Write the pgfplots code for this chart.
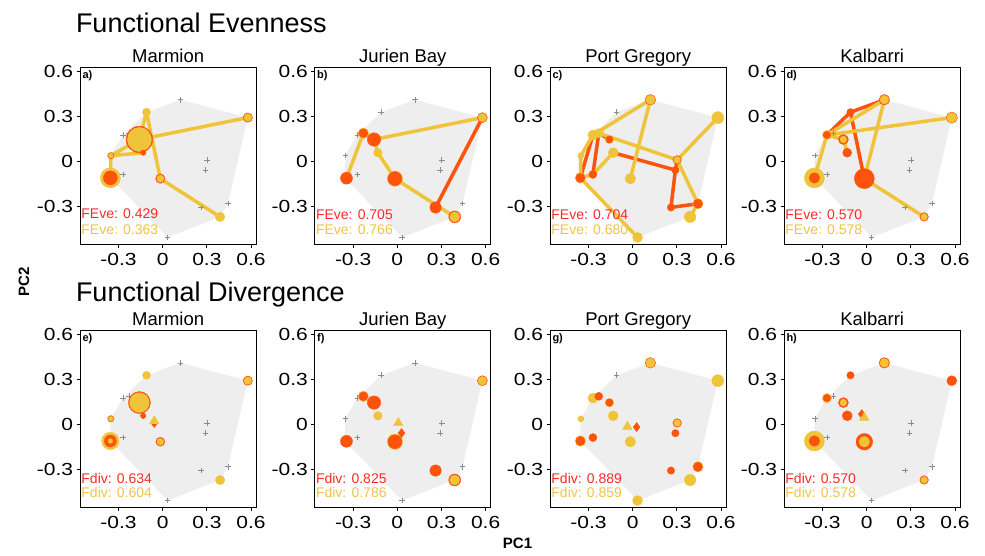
\documentclass[border=0pt]{standalone}
\usepackage{fontspec}
\setmainfont{Liberation Sans}
\newfontfamily\tickfont{Liberation Sans}[FakeStretch=1.2]
\usepackage{pgfplots}
\pgfplotsset{compat=1.18}
\definecolor{rp}{RGB}{255,82,10}
\definecolor{yp}{RGB}{240,196,58}
\definecolor{rt}{RGB}{255,40,40}
\definecolor{yt}{RGB}{238,196,70}
\definecolor{hullc}{RGB}{238,238,238}
\definecolor{crs}{RGB}{140,140,140}
\tikzset{
 txtA/.style={anchor=west, inner sep=0pt, font=\fontsize{14}{14}\selectfont},
 lab/.style={anchor=north west, inner sep=0pt, font=\bfseries\fontsize{11}{11}\selectfont},
}
\pgfplotsset{
 every axis title/.style={at={(0.5,1)}, anchor=base, yshift=4.5pt, font=\fontsize{18.5}{18.5}\selectfont},
 panel/.style={scale only axis, width=176pt, height=177pt, anchor=south west,
   xmin=-0.56, xmax=0.635, ymin=-0.55, ymax=0.63,
   xtick={-0.3,0,0.3,0.6}, xticklabels={-0.3,0,0.3,0.6},
   ytick={-0.3,0,0.3,0.6}, yticklabels={-0.3,0,0.3,0.6},
   tick align=outside, tick pos=left, major tick length=3.5pt,
   every tick/.style={black, line width=0.9pt},
   axis line style={line width=1.3pt},
   ticklabel style={font=\tickfont\fontsize{17.5}{17.5}\selectfont},
   xticklabel style={yshift=-2pt},
   unbounded coords=jump,
   colormap={ry}{color(0)=(rp) color(1)=(yp)},
 },
 pts/.style={scatter, only marks, mark=*, point meta=explicit, point meta min=0, point meta max=1,
   scatter/use mapped color={draw=mapped color, fill=mapped color},
   visualization depends on={\thisrow{s}\as\ms},
   scatter/@pre marker code/.append style={/tikz/mark size=\ms}},
 yl/.style={yp, line width=3.5pt, line cap=round, line join=round},
 rl/.style={rp, line width=3.5pt, line cap=round, line join=round},
 hullp/.style={fill=hullc, draw=none},
 crossp/.style={only marks, mark=+, mark size=2.8pt, crs, mark options={line width=0.6pt}},
}
\newcommand{\hull}{(-0.355,0.04) (-0.27,0.178) (-0.11,0.33) (0.12,0.413) (0.578,0.294) (0.443,-0.28) (0.39,-0.368) (0.033,-0.505) (-0.355,-0.108)}
\newcommand{\crosses}{(0.12,0.413) (0.578,0.294) (-0.11,0.33) (-0.27,0.178) (-0.23,0.19) (-0.158,0.148) (-0.132,0.06) (-0.352,0.04) (-0.355,-0.108) (-0.27,-0.085) (-0.016,-0.113) (0.302,0.012) (0.29,-0.056) (0.26,-0.305) (0.443,-0.28) (0.39,-0.368) (0.033,-0.505)}
\begin{document}
\begin{tikzpicture}
\useasboundingbox (0pt,0pt) rectangle (985pt,556pt);
\node[anchor=base west, inner sep=0pt, font=\fontsize{27}{27}\selectfont] at (75.8pt,523pt) {Functional Evenness};
\node[anchor=base west, inner sep=0pt, font=\fontsize{27}{27}\selectfont] at (75.8pt,254pt) {Functional Divergence};
\node[rotate=90, inner sep=0pt, font=\bfseries\fontsize{15}{15}\selectfont] at (24pt,274pt) {PC2};
\node[inner sep=0pt, font=\bfseries\fontsize{15}{15}\selectfont] at (517.5pt,13pt) {PC1};

% ---------------- a) Marmion FEve
\begin{axis}[panel, at={(80.2pt,311.8pt)}, title={Marmion}]
\addplot[hullp] coordinates {\hull} -- cycle;
\addplot[crossp] coordinates {\crosses};
\addplot[pts] table[meta=c] {
x y s c
-0.11 0.33 4.0 1
0.578 0.294 4.7 0
0.578 0.294 3.8 1
-0.158 0.148 13.3 0
-0.158 0.148 12.0 1
-0.132 0.06 2.7 0
-0.352 0.04 3.2 0
-0.352 0.04 2.4 1
-0.355 -0.108 10 1
-0.355 -0.108 7 0
-0.016 -0.113 4.7 0
-0.016 -0.113 3.6 1
0.39 -0.368 4.7 1
};
\addplot[yl] coordinates {(-0.355,-0.108) (-0.352,0.04) (-0.132,0.06) (nan,nan) (-0.352,0.04) (-0.158,0.148) (0.578,0.294) (nan,nan) (-0.158,0.148) (-0.11,0.33) (-0.016,-0.113) (0.39,-0.368)};
\node[txtA, text=rt] at (axis cs:-0.553,-0.345) {FEve: 0.429};
\node[txtA, text=yt] at (axis cs:-0.553,-0.45) {FEve: 0.363};
\node[lab] at (rel axis cs:0.012,0.985) {a)};
\end{axis}

% ---------------- b) Jurien Bay FEve
\begin{axis}[panel, at={(314.8pt,311.8pt)}, title={Jurien Bay}]
\addplot[hullp] coordinates {\hull} -- cycle;
\addplot[crossp] coordinates {\crosses};
\addplot[pts] table[meta=c] {
x y s c
-0.23 0.19 5.3 1
-0.23 0.19 4.5 0
-0.158 0.148 6.7 0
-0.132 0.06 4.3 1
-0.345 -0.11 6 0
-0.016 -0.113 7.7 1
-0.016 -0.113 7 0
0.26 -0.305 5.7 0
0.39 -0.368 6 0
0.39 -0.368 5 1
0.578 0.294 5 0
0.578 0.294 4.2 1
};
\addplot[rl] coordinates {(0.578,0.294) (0.26,-0.305)};
\addplot[yl] coordinates {(-0.345,-0.11) (-0.23,0.19) (-0.158,0.148) (0.578,0.294) (nan,nan) (-0.158,0.148) (-0.132,0.06) (-0.016,-0.113) (0.39,-0.368)};
\node[txtA, text=rt] at (axis cs:-0.553,-0.355) {FEve: 0.705};
\node[txtA, text=yt] at (axis cs:-0.553,-0.455) {FEve: 0.766};
\node[lab] at (rel axis cs:0.012,0.985) {b)};
\end{axis}

% ---------------- c) Port Gregory FEve
\begin{axis}[panel, at={(550.2pt,311.8pt)}, title={Port Gregory}]
\addplot[hullp] coordinates {\hull} -- cycle;
\addplot[crossp] coordinates {\crosses};
\addplot[pts] table[meta=c] {
x y s c
0.12 0.413 5.3 0
0.12 0.413 4.6 1
0.578 0.294 6 1
-0.27 0.178 5 1
-0.23 0.19 4 0
-0.23 0.19 4.6 1
-0.158 0.148 4.2 1
-0.158 0.148 3.6 0
-0.132 0.06 5 1
-0.352 0.04 3 1
-0.355 -0.108 5.3 1
-0.355 -0.108 4.6 0
-0.27 -0.085 4 0
-0.016 -0.113 5.3 1
0.302 0.012 4.3 0
0.302 0.012 3.4 1
0.29 -0.056 3.7 0
0.26 -0.305 3.7 0
0.443 -0.28 5.2 1
0.443 -0.28 4.6 0
0.39 -0.368 5.7 1
0.033 -0.505 5 1
};
\addplot[rl] coordinates {(-0.355,-0.108) (-0.27,0.178) (nan,nan) (-0.27,-0.085) (-0.23,0.19) (-0.158,0.148) (nan,nan) (-0.132,0.06) (0.29,-0.056) (0.26,-0.305) (0.443,-0.28) (nan,nan) (0.302,0.012) (0.29,-0.056)};
\addplot[yl] coordinates {(0.033,-0.505) (-0.355,-0.108) (-0.352,0.04) (-0.27,0.178) (0.12,0.413) (-0.016,-0.113) (nan,nan) (-0.355,-0.108) (-0.27,-0.085) (-0.132,0.06) (nan,nan) (-0.27,0.178) (-0.23,0.19) (0.302,0.012) (0.578,0.294) (nan,nan) (0.302,0.012) (0.443,-0.28) (0.39,-0.368)};
\node[txtA, text=rt] at (axis cs:-0.553,-0.355) {FEve: 0.704};
\node[txtA, text=yt] at (axis cs:-0.553,-0.455) {FEve: 0.680};
\node[lab] at (rel axis cs:0.012,0.985) {c)};
\end{axis}

% ---------------- d) Kalbarri FEve
\begin{axis}[panel, at={(784.2pt,311.8pt)}, title={Kalbarri}]
\addplot[hullp] coordinates {\hull} -- cycle;
\addplot[crossp] coordinates {\crosses};
\addplot[pts] table[meta=c] {
x y s c
0.12 0.413 5.3 0
0.12 0.413 4.3 1
0.578 0.294 5.6 0
0.578 0.294 5.0 1
-0.11 0.33 3.7 0
-0.27 0.178 4.7 1
-0.27 0.178 3.7 0
-0.158 0.148 5 0
-0.158 0.148 3.3 1
-0.132 0.06 4.5 0
-0.355 -0.108 10 1
-0.355 -0.108 5.3 0
-0.016 -0.113 10 0
0.39 -0.368 4.3 0
0.39 -0.368 3.3 1
};
\addplot[rl] coordinates {(-0.27,0.178) (-0.11,0.33) (0.12,0.413) (nan,nan) (-0.11,0.33) (-0.016,-0.113)};
\addplot[yl] coordinates {(-0.355,-0.108) (-0.27,0.178) (0.578,0.294) (nan,nan) (-0.27,0.178) (0.12,0.413) (-0.016,-0.113) (0.39,-0.368) (nan,nan) (-0.27,0.178) (-0.158,0.148) (-0.132,0.06)};
\node[txtA, text=rt] at (axis cs:-0.553,-0.35) {FEve: 0.570};
\node[txtA, text=yt] at (axis cs:-0.553,-0.455) {FEve: 0.578};
\node[lab] at (rel axis cs:0.012,0.985) {d)};
\end{axis}

% ---------------- e) Marmion FDiv
\begin{axis}[panel, at={(80.2pt,48.7pt)}, title={Marmion}]
\addplot[hullp] coordinates {\hull} -- cycle;
\addplot[crossp] coordinates {\crosses};
\addplot[pts] table[meta=c] {
x y s c
-0.11 0.33 4.0 1
0.578 0.294 4.7 0
0.578 0.294 3.8 1
-0.158 0.148 11.0 0
-0.158 0.148 9.8 1
-0.132 0.06 2.7 0
-0.352 0.04 3.2 0
-0.352 0.04 2.4 1
-0.355 -0.108 8.7 1
-0.355 -0.108 6 0
-0.355 -0.108 2.3 1
-0.016 -0.113 4.5 0
-0.016 -0.113 3.4 1
0.39 -0.368 4.7 1
};
\addplot[only marks, mark=diamond*, mark size=3.5pt, rp] coordinates {(-0.057,0.005)};
\addplot[only marks, mark=triangle*, mark size=5.5pt, yp] coordinates {(-0.057,0.025)};
\node[txtA, text=rt] at (axis cs:-0.553,-0.358) {Fdiv: 0.634};
\node[txtA, text=yt] at (axis cs:-0.553,-0.453) {Fdiv: 0.604};
\node[lab] at (rel axis cs:0.012,0.985) {e)};
\end{axis}

% ---------------- f) Jurien Bay FDiv
\begin{axis}[panel, at={(314.8pt,48.7pt)}, title={Jurien Bay}]
\addplot[hullp] coordinates {\hull} -- cycle;
\addplot[crossp] coordinates {\crosses};
\addplot[pts] table[meta=c] {
x y s c
-0.23 0.19 5.3 1
-0.23 0.19 4.5 0
-0.158 0.148 6.7 0
-0.132 0.06 4.3 1
-0.345 -0.11 6 0
-0.016 -0.113 7.7 1
-0.016 -0.113 7 0
0.26 -0.305 5.7 0
0.39 -0.368 6 0
0.39 -0.368 5 1
0.578 0.294 5 0
0.578 0.294 4.2 1
};
\addplot[only marks, mark=diamond*, mark size=4.5pt, rp] coordinates {(0.029,-0.055)};
\addplot[only marks, mark=triangle*, mark size=5.5pt, yp] coordinates {(0.007,0.012)};
\node[txtA, text=rt] at (axis cs:-0.553,-0.358) {Fdiv: 0.825};
\node[txtA, text=yt] at (axis cs:-0.553,-0.453) {Fdiv: 0.786};
\node[lab] at (rel axis cs:0.012,0.985) {f)};
\end{axis}

% ---------------- g) Port Gregory FDiv
\begin{axis}[panel, at={(550.2pt,48.7pt)}, title={Port Gregory}]
\addplot[hullp] coordinates {\hull} -- cycle;
\addplot[crossp] coordinates {\crosses};
\addplot[pts] table[meta=c] {
x y s c
0.12 0.413 5.3 0
0.12 0.413 4.6 1
0.578 0.294 6 1
-0.27 0.178 5 1
-0.23 0.19 4 0
-0.158 0.148 4.2 1
-0.158 0.148 3.8 0
-0.132 0.06 5 1
-0.352 0.04 3 1
-0.355 -0.108 5.3 1
-0.355 -0.108 4.6 0
-0.27 -0.085 4 0
-0.016 -0.113 5.3 1
0.302 0.012 4.3 0
0.302 0.012 3.4 1
0.29 -0.056 3.7 0
0.26 -0.305 3.7 0
0.443 -0.28 5.2 1
0.443 -0.28 4.6 0
0.39 -0.368 5.7 1
0.033 -0.505 5 1
};
\addplot[only marks, mark=diamond*, mark size=4.5pt, rp] coordinates {(0.027,-0.015)};
\addplot[only marks, mark=triangle*, mark size=5.5pt, yp] coordinates {(-0.036,-0.012)};
\node[txtA, text=rt] at (axis cs:-0.553,-0.358) {Fdiv: 0.889};
\node[txtA, text=yt] at (axis cs:-0.553,-0.453) {Fdiv: 0.859};
\node[lab] at (rel axis cs:0.012,0.985) {g)};
\end{axis}

% ---------------- h) Kalbarri FDiv
\begin{axis}[panel, at={(784.2pt,48.7pt)}, title={Kalbarri}]
\addplot[hullp] coordinates {\hull} -- cycle;
\addplot[crossp] coordinates {\crosses};
\addplot[pts] table[meta=c] {
x y s c
0.12 0.413 5.3 0
0.12 0.413 4.3 1
0.578 0.294 5 0
-0.11 0.33 3.7 0
-0.27 0.178 4.7 1
-0.27 0.178 3.7 0
-0.158 0.148 5 0
-0.158 0.148 3.3 1
-0.132 0.06 5 0
-0.355 -0.108 10 1
-0.355 -0.108 5.3 0
-0.016 -0.113 8.3 0
-0.016 -0.113 5.3 1
0.39 -0.368 4.3 0
0.39 -0.368 3.3 1
};
\addplot[only marks, mark=diamond*, mark size=4.5pt, rp] coordinates {(-0.034,0.071)};
\addplot[only marks, mark=triangle*, mark size=5.5pt, yp] coordinates {(-0.016,0.048)};
\node[txtA, text=rt] at (axis cs:-0.553,-0.358) {Fdiv: 0.570};
\node[txtA, text=yt] at (axis cs:-0.553,-0.453) {Fdiv: 0.578};
\node[lab] at (rel axis cs:0.012,0.985) {h)};
\end{axis}
\end{tikzpicture}
\end{document}
